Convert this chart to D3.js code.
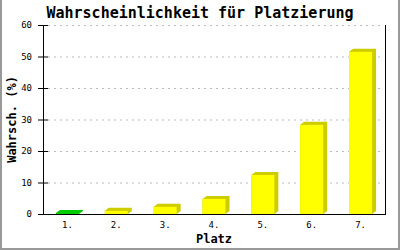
<!DOCTYPE html>
<html>
<head>
<meta charset="utf-8">
<script src="https://cdn.jsdelivr.net/npm/d3@7"></script>
<style>
body { margin: 0; background: #fff; }
svg text { font-family: "DejaVu Sans Mono", monospace; }
</style>
</head>
<body>
<script>
var width = 400, height = 250;

var places = ["1.", "2.", "3.", "4.", "5.", "6.", "7."];
var probs = [0.3, 1.0, 2.3, 4.8, 12.4, 28.3, 51.5];
var barColors = ["#00cc00", "#ffff00", "#ffff00", "#ffff00", "#ffff00", "#ffff00", "#ffff00"];
var sideColors = ["#00cc00", "#cccc00", "#cccc00", "#cccc00", "#cccc00", "#cccc00", "#cccc00"];
var yTicks = [0, 10, 20, 30, 40, 50, 60];

// plot box (not "top": that name is taken by window.top)
var plotL = 43, plotR = 385, plotT = 25, plotB = 214;
var depthX = 4, depthY = 3, barW = 23;

var svg = d3.select("body").append("svg")
    .attr("width", width)
    .attr("height", height);

svg.append("rect").attr("width", width).attr("height", height).attr("fill", "#fff");

// frame (left, right, bottom)
svg.append("path")
    .attr("d", "M1,0 V249 H399 V0")
    .attr("fill", "none")
    .attr("stroke", "#999")
    .attr("stroke-width", 2);

var x = d3.scaleBand().domain(places).range([plotL, plotR]);
var y = d3.scaleLinear().domain([0, 60]).range([plotB, plotT]);

// gridlines
svg.selectAll(".grid")
    .data(yTicks.filter(function(d) { return d > 0; }))
    .enter().append("line")
    .attr("x1", plotL + 5).attr("x2", plotR - 2)
    .attr("y1", function(d) { return y(d) + 0.5; })
    .attr("y2", function(d) { return y(d) + 0.5; })
    .attr("stroke", "#bbbbbb")
    .attr("stroke-dasharray", "2,4");

// bars with 3d side
var bars = svg.selectAll(".bar").data(probs).enter().append("g");

bars.append("path")
    .attr("fill", function(d, i) { return sideColors[i]; })
    .attr("d", function(d, i) {
        var x0 = x(places[i]) + x.bandwidth() / 2 - barW / 2;
        var yt = y(d);
        return "M" + x0 + "," + yt +
            " L" + (x0 + depthX) + "," + (yt - depthY) +
            " L" + (x0 + barW + depthX) + "," + (yt - depthY) +
            " L" + (x0 + barW + depthX) + "," + (plotB - depthY) +
            " L" + (x0 + barW) + "," + plotB +
            " L" + x0 + "," + plotB + " Z";
    });

bars.append("rect")
    .attr("fill", function(d, i) { return barColors[i]; })
    .attr("x", function(d, i) { return x(places[i]) + x.bandwidth() / 2 - barW / 2; })
    .attr("y", function(d) { return y(d); })
    .attr("width", barW)
    .attr("height", function(d) { return plotB - y(d); });

// axes lines
svg.append("line").attr("x1", plotL + 0.5).attr("x2", plotL + 0.5)
    .attr("y1", plotT).attr("y2", plotB).attr("stroke", "#000");
svg.append("line").attr("x1", plotR + 0.5).attr("x2", plotR + 0.5)
    .attr("y1", plotT).attr("y2", plotB).attr("stroke", "#000");
svg.append("line").attr("x1", plotL).attr("x2", plotR + 1)
    .attr("y1", plotB + 0.5).attr("y2", plotB + 0.5).attr("stroke", "#000");

// y ticks
svg.selectAll(".ytick").data(yTicks).enter().append("line")
    .attr("x1", plotL - 5).attr("x2", plotL + 5)
    .attr("y1", function(d) { return y(d) + 0.5; })
    .attr("y2", function(d) { return y(d) + 0.5; })
    .attr("stroke", "#000");

svg.selectAll(".ylab").data(yTicks).enter().append("text")
    .attr("x", 32)
    .attr("y", function(d) { return y(d) + 3; })
    .attr("text-anchor", "end")
    .attr("font-size", "9px")
    .text(function(d) { return d; });

// x labels
svg.selectAll(".xlab").data(places).enter().append("text")
    .attr("x", function(d) { return x(d) + x.bandwidth() / 2; })
    .attr("y", 228)
    .attr("text-anchor", "middle")
    .attr("font-size", "9px")
    .text(function(d) { return d; });

// titles
svg.append("text")
    .attr("x", 200).attr("y", 18)
    .attr("text-anchor", "middle")
    .attr("font-size", "15px")
    .attr("font-weight", "bold")
    .text("Wahrscheinlichkeit für Platzierung");

svg.append("text")
    .attr("x", (plotL + plotR) / 2).attr("y", 243)
    .attr("text-anchor", "middle")
    .attr("font-size", "12px")
    .attr("font-weight", "bold")
    .text("Platz");

svg.append("text")
    .attr("transform", "translate(16," + ((plotT + plotB) / 2) + ") rotate(-90)")
    .attr("text-anchor", "middle")
    .attr("font-size", "12px")
    .attr("font-weight", "bold")
    .text("Wahrsch. (%)");
</script>
</body>
</html>
